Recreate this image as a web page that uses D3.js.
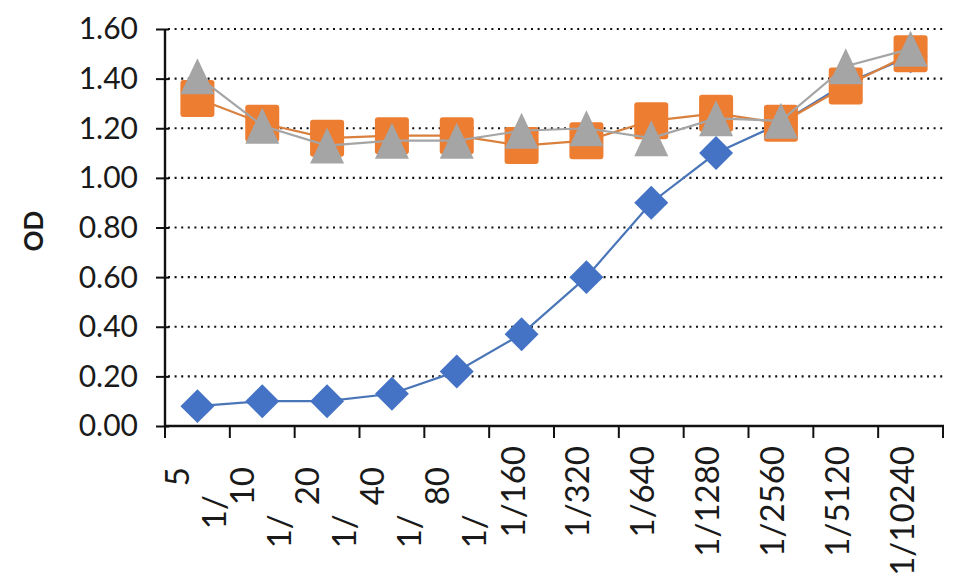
<!DOCTYPE html>
<html><head><meta charset="utf-8">
<script src="https://cdn.jsdelivr.net/npm/d3@7"></script>
<style>body{margin:0;background:#fff}svg{display:block}</style>
</head><body><svg id="c" width="954" height="586"></svg>
<script>
const categories = ["1/5","1/10","1/20","1/40","1/80","1/160","1/320","1/640","1/1280","1/2560","1/5120","1/10240"];
const seriesBlue   = [0.08,0.10,0.10,0.13,0.22,0.37,0.60,0.90,1.10,1.22,1.38,1.49];
const seriesOrange = [1.32,1.22,1.16,1.17,1.17,1.13,1.15,1.23,1.26,1.22,1.37,1.50];
const seriesGray   = [1.41,1.21,1.13,1.15,1.15,1.19,1.20,1.16,1.24,1.23,1.45,1.52];
const yTicks = [0,0.2,0.4,0.6,0.8,1.0,1.2,1.4,1.6];
const yLabel = "OD";

const svg = d3.select("#c");
const x = d3.scaleBand().domain(categories).range([165,943]);
const y = d3.scaleLinear().domain([0,1.6]).range([426,29]);
const cx = d => x(d) + x.bandwidth()/2;

// gridlines
svg.append("g").selectAll("line").data(yTicks.filter(t=>t>0)).join("line")
  .attr("x1",168).attr("x2",943).attr("y1",d=>y(d)).attr("y2",d=>y(d))
  .attr("stroke","#111").attr("stroke-width",2.2).attr("stroke-dasharray","2,4.6");

// y axis
const yAxis = d3.axisLeft(y).tickValues(yTicks).tickFormat(d3.format(".2f")).tickSize(0);
const gy = svg.append("g").attr("transform","translate(165,0)").call(yAxis);
gy.select(".domain").remove();
gy.selectAll("text").attr("x",-27).attr("dy","0.33em")
  .style("font-family","Lato").style("font-size","30px").attr("fill","#1a1a1a");
gy.selectAll(".tick").append("line").attr("x1",-9).attr("x2",4).attr("stroke","#111").attr("stroke-width",2);
svg.append("line").attr("x1",165).attr("x2",165).attr("y1",y(1.6)).attr("y2",y(0))
  .attr("stroke","#111").attr("stroke-width",2.4);

// x axis
svg.append("line").attr("x1",165).attr("x2",944).attr("y1",y(0)).attr("y2",y(0))
  .attr("stroke","#111").attr("stroke-width",2.4);
const bounds = categories.map(c=>x(c)).concat([x.range()[1]]);
svg.append("g").selectAll("line").data(bounds).join("line")
  .attr("x1",d=>d).attr("x2",d=>d).attr("y1",y(0)).attr("y2",y(0)+12)
  .attr("stroke","#111").attr("stroke-width",2);

// x labels
const xl = svg.append("g").style("font-family","Lato").style("font-size","33px").attr("fill","#1a1a1a");
categories.forEach((c,i)=>{
  const px = cx(c);
  if (i < 5) {
    const rest = c.slice(2), head = c.slice(0,2);
    const t1 = xl.append("text").attr("transform",`translate(${px-8},467) rotate(-90)`)
      .attr("text-anchor","end").text(rest);
    const len = t1.node().getComputedTextLength();
    xl.append("text").attr("transform",`translate(${px+29},${467+len+9}) rotate(-90)`)
      .attr("text-anchor","end").text(head);
  } else {
    xl.append("text").attr("transform",`translate(${px+3},446) rotate(-90)`)
      .attr("text-anchor","end").text(c);
  }
});

// y label
svg.append("text").attr("transform","translate(43,231) rotate(-90)")
  .attr("text-anchor","middle").style("font-family","Lato").style("font-weight","bold")
  .style("font-size","26px").attr("fill","#1a1a1a").text(yLabel);

const line = d3.line().x((d,i)=>cx(categories[i])).y(d=>y(d));

// blue diamonds
svg.append("path").datum(seriesBlue).attr("d",line).attr("fill","none")
  .attr("stroke","#4a76b8").attr("stroke-width",2.2);
const dia = d3.symbol().type(d3.symbolSquare).size(24*24);
svg.append("g").selectAll("path").data(seriesBlue).join("path")
  .attr("d",dia).attr("transform",(d,i)=>`translate(${cx(categories[i])},${y(d)}) rotate(45)`)
  .attr("fill","#4472c4");

// orange squares
svg.append("path").datum(seriesOrange).attr("d",line).attr("fill","none")
  .attr("stroke","#d9803e").attr("stroke-width",2.2);
svg.append("g").selectAll("rect").data(seriesOrange).join("rect")
  .attr("x",(d,i)=>cx(categories[i])-17).attr("y",d=>y(d)-18.5)
  .attr("width",34).attr("height",37).attr("rx",3)
  .attr("fill","#ed7d31");

// gray triangles
svg.append("path").datum(seriesGray).attr("d",line).attr("fill","none")
  .attr("stroke","#a5a5a5").attr("stroke-width",2.2);
svg.append("g").selectAll("path").data(seriesGray).join("path")
  .attr("d",d=>`M0,-18L17,18L-17,18Z`)
  .attr("transform",(d,i)=>`translate(${cx(categories[i])},${y(d)})`)
  .attr("fill","#a5a5a5");
</script></body></html>
